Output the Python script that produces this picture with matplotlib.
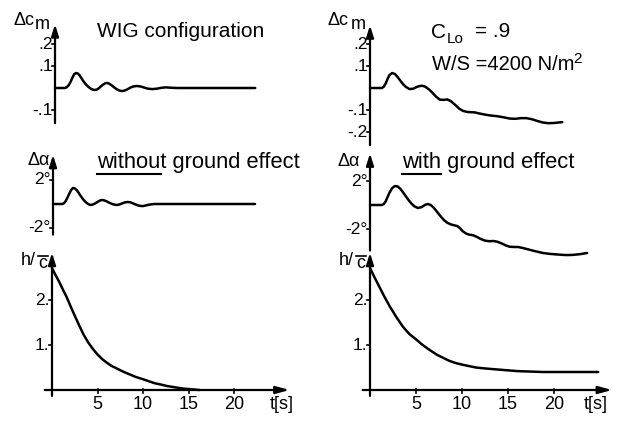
import matplotlib
matplotlib.use("Agg")
import matplotlib.pyplot as plt
from matplotlib.lines import Line2D

# ---------------- data ----------------
# pitching moment, without ground effect
cm_left_t = [0, 1.1, 1.3, 1.5, 1.7, 1.9, 2.1, 2.3, 2.5, 2.7, 2.9, 3.1, 3.4, 3.7, 4.0, 4.2, 4.4, 4.6,
             4.8, 5.0, 5.2, 5.5, 5.7, 5.9, 6.2, 6.5, 6.8, 7.1, 7.4, 7.7, 8.0, 8.3, 8.6, 9.0, 9.4,
             9.8, 10.2, 10.7, 11.2, 11.7, 12.2, 12.8, 13.5, 22.0]
cm_left = [0, 0, 0.004, 0.012, 0.027, 0.046, 0.062, 0.068, 0.066, 0.058, 0.045, 0.032, 0.016,
           0.004, -0.005, -0.008, -0.009, -0.007, -0.002, 0.006, 0.013, 0.021, 0.023, 0.021, 0.013,
           0.003, -0.006, -0.012, -0.014, -0.011, -0.005, 0.002, 0.007, 0.009, 0.007, 0.002, -0.003,
           -0.005, -0.003, 0.001, 0.003, 0.001, 0, 0]
# pitching moment, with ground effect
cm_right_t = [0, 1.3, 1.5, 1.7, 1.9, 2.1, 2.4, 2.7, 3.0, 3.3, 3.6, 3.9, 4.3, 4.7, 5.1, 5.4, 5.7,
              6.0, 6.4, 6.8, 7.2, 7.6, 8.0, 8.4, 8.8, 9.3, 9.7, 10.1, 10.6, 11.0, 11.4, 11.9, 12.5,
              13.1, 13.8, 14.5, 15.2, 15.8, 16.4, 17.0, 17.6, 18.2, 18.8, 19.4, 20.0, 20.9]
cm_right = [0, 0, 0.006, 0.020, 0.040, 0.058, 0.068, 0.064, 0.050, 0.033, 0.017, 0.005, -0.005,
            -0.003, 0.005, 0.009, 0.010, 0.006, -0.006, -0.022, -0.040, -0.053, -0.054, -0.052,
            -0.060, -0.078, -0.094, -0.104, -0.109, -0.110, -0.111, -0.116, -0.121, -0.125, -0.128,
            -0.133, -0.139, -0.140, -0.137, -0.137, -0.142, -0.150, -0.157, -0.160, -0.159, -0.155]
# angle of attack [deg], without ground effect
da_left_t = [0, 1.0, 1.2, 1.4, 1.6, 1.8, 2.0, 2.2, 2.4, 2.6, 2.8, 3.0, 3.3, 3.6, 3.9, 4.1, 4.4,
             4.7, 5.0, 5.2, 5.4, 5.6, 5.9, 6.2, 6.5, 6.8, 7.0, 7.3, 7.6, 7.9, 8.2, 8.5, 8.8, 9.1,
             9.4, 9.7, 9.9, 10.2, 10.6, 11.1, 22.2]
da_left = [0, 0, 0.06, 0.25, 0.55, 0.88, 1.18, 1.33, 1.30, 1.16, 0.95, 0.72, 0.40, 0.15, -0.02,
           -0.08, -0.04, 0.08, 0.22, 0.30, 0.33, 0.31, 0.22, 0.10, 0.0, -0.06, -0.08, -0.04, 0.05,
           0.13, 0.17, 0.14, 0.05, -0.05, -0.13, -0.17, -0.17, -0.12, -0.05, 0, 0]
# angle of attack [deg], with ground effect
da_right_t = [0, 1.3, 1.5, 1.7, 1.9, 2.1, 2.4, 2.7, 3.0, 3.3, 3.6, 3.9, 4.2, 4.5, 4.8, 5.2, 5.6,
              6.0, 6.3, 6.6, 6.9, 7.2, 7.5, 7.8, 8.1, 8.4, 8.8, 9.1, 9.5, 9.8, 10.1, 10.5, 10.8,
              11.2, 11.6, 12.0, 12.5, 13.0, 13.4, 13.8, 14.3, 14.8, 15.2, 15.7, 16.1, 16.6, 17.2,
              17.8, 18.4, 18.8, 19.5, 20.3, 21.0, 21.4, 22.0, 22.8, 23.6]
da_right = [0, 0, 0.08, 0.30, 0.65, 1.0, 1.40, 1.58, 1.55, 1.35, 1.05, 0.72, 0.40, 0.12, -0.10,
            -0.25, -0.18, 0.02, 0.08, 0.0, -0.20, -0.48, -0.78, -1.05, -1.30, -1.48, -1.62, -1.68,
            -1.76, -1.95, -2.20, -2.40, -2.47, -2.52, -2.65, -2.82, -2.97, -3.02, -3.00, -3.05,
            -3.20, -3.38, -3.48, -3.50, -3.50, -3.58, -3.70, -3.82, -3.93, -4.00, -4.07, -4.12,
            -4.16, -4.17, -4.16, -4.10, -4.00]
# height / chord
h_left_t = [0, 0.4, 0.8, 1.2, 1.6, 2.0, 2.5, 3.0, 3.5, 4.0, 4.5, 5.0, 5.5, 6.0, 6.5, 7.1, 7.8,
            8.5, 9.2, 10.0, 10.7, 11.3, 12.0, 12.6, 13.2, 13.8, 14.5, 15.1, 15.7, 16.2]
h_left = [2.71, 2.55, 2.40, 2.23, 2.07, 1.88, 1.65, 1.43, 1.22, 1.05, 0.91, 0.79, 0.69, 0.61,
          0.54, 0.48, 0.41, 0.35, 0.29, 0.24, 0.19, 0.15, 0.12, 0.09, 0.07, 0.05, 0.03, 0.02,
          0.01, 0.0]
h_right_t = [0, 0.5, 1.0, 1.6, 2.2, 2.9, 3.6, 4.3, 5.1, 5.6, 6.2, 6.7, 7.3, 8.0, 8.6, 9.3, 10.1,
             10.8, 11.5, 12.2, 13.0, 14.5, 16.0, 17.4, 18.8, 24.8]
h_right = [2.71, 2.50, 2.30, 2.06, 1.84, 1.61, 1.40, 1.24, 1.11, 1.02, 0.93, 0.86, 0.78, 0.71,
           0.65, 0.60, 0.56, 0.53, 0.50, 0.485, 0.47, 0.445, 0.42, 0.41, 0.40, 0.40]

t_ticks = [5, 10, 15, 20]
t_tick_labels = ["5", "10", "15", "20"]
cm_ticks_left = [0.2, 0.1, -0.1]
cm_labels_left = [".2", ".1", "-.1"]
cm_ticks_right = [0.2, 0.1, -0.1, -0.2]
cm_labels_right = [".2", ".1", "-.1", "-.2"]
da_ticks = [2, -2]
da_labels = ["2°", "-2°"]
h_ticks = [2, 1]
h_labels = ["2.", "1."]

# ---------------- figure ----------------
W, H = 621, 423
FONT = "Liberation Sans"
plt.rcParams["font.family"] = [FONT, "DejaVu Sans"]
fig = plt.figure(figsize=(W / 100, H / 100), dpi=100)
fig.patch.set_facecolor("white")

LW = 1.8


def add_panel(t0_px, sx, y0_px, sy, top_px, bot_px):
    left_px = t0_px - 6 * sx
    right_px = t0_px + 27 * sx
    ax = fig.add_axes([left_px / W, 1 - bot_px / H, (right_px - left_px) / W, (bot_px - top_px) / H])
    ax.set_xlim(-6, 27)
    ax.set_ylim((y0_px - bot_px) / sy, (y0_px - top_px) / sy)
    ax.axis("off")
    ax.patch.set_alpha(0)
    return ax


def vaxis(ax, bottom, top):
    ax.annotate("", xy=(0, top), xytext=(0, bottom),
                arrowprops=dict(arrowstyle="-|>,head_length=0.7,head_width=0.22", lw=1.6,
                                color="black", shrinkA=0, shrinkB=0),
                annotation_clip=False)


def yticks(ax, ticks, labels, dx_tick=0.35, size=12.5):
    for v, s in zip(ticks, labels):
        ax.plot([-dx_tick, 0], [v, v], color="black", lw=1.2, clip_on=False)
        ax.text(-0.25, v, s, ha="right", va="center", fontsize=size, clip_on=False)


def ftext(x, y, s, size, ha="left", va="baseline"):
    fig.text(x / W, 1 - y / H, s, fontsize=size, ha=ha, va=va)


def fline(x1, x2, y, lw=1.5):
    fig.add_artist(Line2D([x1 / W, x2 / W], [1 - y / H, 1 - y / H], color="black", lw=lw))


ax_cm_L = add_panel(55, 9.1, 88, 220, 5, 140)
ax_cm_R = add_panel(370, 9.2, 88, 220, 5, 150)
ax_a_L = add_panel(53, 9.1, 204, 12, 145, 245)
ax_a_R = add_panel(370, 9.2, 205, 12, 145, 262)
ax_h_L = add_panel(52, 9.1, 390, 45, 245, 423)
ax_h_R = add_panel(370, 9.2, 390, 45, 245, 423)

# curves
for ax, t, v in [(ax_cm_L, cm_left_t, cm_left), (ax_cm_R, cm_right_t, cm_right),
                 (ax_a_L, da_left_t, da_left), (ax_a_R, da_right_t, da_right),
                 (ax_h_L, h_left_t, h_left), (ax_h_R, h_right_t, h_right)]:
    ax.plot(t, v, color="black", lw=LW, solid_joinstyle="round", solid_capstyle="round", clip_on=False)

# vertical axes
vaxis(ax_cm_L, -0.16, 0.29)
vaxis(ax_cm_R, -0.26, 0.285)
vaxis(ax_a_L, -2.55, 4.1)
vaxis(ax_a_R, -3.8, 4.3)
vaxis(ax_h_L, -0.13, 3.05)
vaxis(ax_h_R, -0.13, 3.05)

yticks(ax_cm_L, cm_ticks_left, cm_labels_left)
yticks(ax_cm_R, cm_ticks_right, cm_labels_right)
yticks(ax_a_L, da_ticks, da_labels)
yticks(ax_a_R, da_ticks, da_labels)
yticks(ax_h_L, h_ticks, h_labels)
yticks(ax_h_R, h_ticks, h_labels)

# time axes
for ax, tmin, tmax, tlab in [(ax_h_L, -0.8, 26.1, 25.2), (ax_h_R, -0.8, 26.3, 24.5)]:
    ax.annotate("", xy=(tmax, 0), xytext=(tmin, 0),
                arrowprops=dict(arrowstyle="-|>,head_length=0.8,head_width=0.22", lw=1.6,
                                color="black", shrinkA=0, shrinkB=0),
                annotation_clip=False)
    for tt, s in zip(t_ticks, t_tick_labels):
        ax.plot([tt, tt], [0.03, -0.06], color="black", lw=1.2, clip_on=False)
        ax.text(tt, -0.32, s, ha="center", va="center", fontsize=13, clip_on=False)
    ax.text(tlab, -0.32, "t[s]", ha="center", va="center", fontsize=13, clip_on=False)

# axis names
ftext(13, 25, "Δc", 13)
ftext(35, 29, "m", 13)
ftext(328, 25, "Δc", 13)
ftext(351, 29, "m", 13)
ftext(27, 165, "Δα", 13)
ftext(338, 166, "Δα", 13)
for x0 in (21, 339):
    ftext(x0, 265, "h/", 13)
    ftext(x0 + 17, 268, "c", 13)
    fline(x0 + 17, x0 + 27, 256, lw=1.2)

# titles / annotations
ftext(97, 37, "WIG configuration", 15)
ftext(97, 168, "without ground effect", 15.8)
fline(97, 161, 174)
ftext(402, 168, "with ground effect", 15.8)
fline(402, 441, 174)
ftext(431, 38, "C", 15)
ftext(447, 43, "Lo", 11)
ftext(475, 37, "= .9", 15)
ftext(432, 70, "W/S =4200 N/m", 14.5)
ftext(573, 63, "2", 11)

fig.savefig("out.png", dpi=100, facecolor="white")
